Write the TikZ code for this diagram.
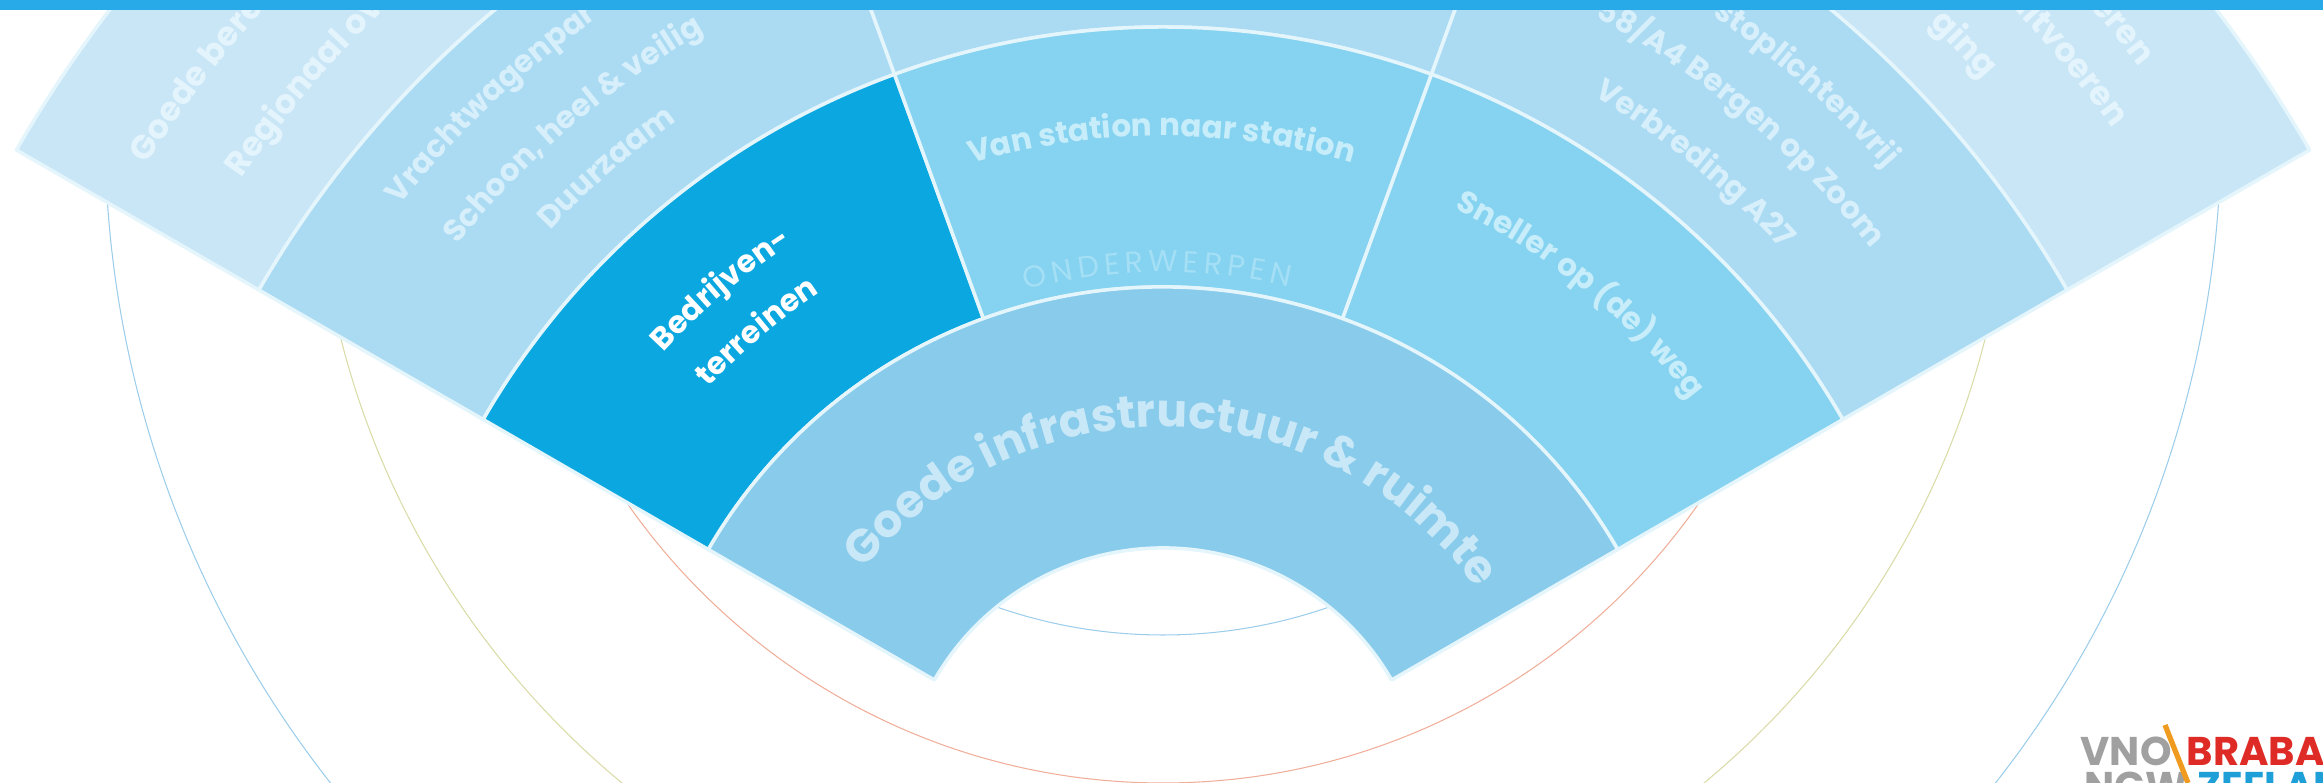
\documentclass[tikz,border=0pt]{standalone}
\usepackage{fontspec}
\setmainfont{Poppins}
\usetikzlibrary{decorations.text}

\definecolor{barBlue}{HTML}{27AAE7}
\definecolor{segDark}{HTML}{0BA7E0}
\definecolor{ringOne}{HTML}{89CBEB}
\definecolor{ringTwo}{HTML}{85D3F0}
\definecolor{ringThree}{HTML}{ABDBF3}
\definecolor{ringFour}{HTML}{C9E6F7}
\definecolor{sepLine}{HTML}{E4F5FC}
\definecolor{txtOne}{HTML}{C8E8F8}
\definecolor{txtTwo}{HTML}{C8EDFA}
\definecolor{txtThree}{HTML}{D6EFFB}
\definecolor{txtFour}{HTML}{E4F4FC}
\definecolor{txtFaint}{HTML}{A4DFF5}
\definecolor{lineBlue}{HTML}{9CCDEB}
\definecolor{lineRed}{HTML}{F0AE9A}
\definecolor{lineOlive}{HTML}{DADBA6}
\definecolor{logoGrey}{HTML}{A0A0A0}
\definecolor{logoRed}{HTML}{DE2B26}
\definecolor{logoBlue}{HTML}{1E9FD8}
\definecolor{logoOrange}{HTML}{EE9B1F}

\tikzset{
	segment/.style={draw=sepLine, line width=1pt, line join=round},
	thinring/.style={line width=0.3pt},
	logotext/.style={inner sep=0pt, anchor=base west, font=\fontsize{11.4}{12}\selectfont\bfseries}
}

% segment: start angle, end angle, inner radius, outer radius, colour
\newcommand{\ringSeg}[5]{
	\draw[segment, fill=#5] ([shift={(#1:#3)}]hub) arc[start angle=#1, end angle=#2, radius=#3] -- ([shift={(#2:#4)}]hub) arc[start angle=#2, end angle=#1, radius=#4] -- cycle;
}
% curved text: radius, start angle, format, text
\newcommand{\ringText}[4]{
	\path[decorate, decoration={text along path, text format delimiters={|}{|}, text={|#3|#4}}] ([shift={(#2:#1)}]hub) arc[start angle=#2, end angle=#2-115, radius=#1];
}
\newcommand{\fontMid}{\fontsize{8.8}{10}\selectfont\bfseries}
\newcommand{\fontThree}{\fontsize{8.8}{10}\selectfont\bfseries}
\newcommand{\fontFar}{\fontsize{9.5}{11}\selectfont\bfseries}

\begin{document}
\begin{tikzpicture}[x=0.01cm, y=0.01cm]
	\useasboundingbox (0,0) rectangle (2323,783);
	\clip (0,0) rectangle (2323,783);
	\coordinate (hub) at (1163,-29);
	\coordinate (rings) at (1163,653);

	% thin circles behind the fan
	\draw[thinring, lineBlue] (rings) circle[radius=505];
	\draw[thinring, lineRed] (rings) circle[radius=653];
	\draw[thinring, lineOlive] (rings) circle[radius=848];
	\draw[thinring, lineBlue] (rings) circle[radius=1058];

	% the fan, outside in
	\ringSeg{150}{30}{1044}{1324}{ringFour}
	\ringSeg{150}{110}{785}{1044}{ringThree}
	\ringSeg{110}{70}{785}{1044}{ringThree}
	\ringSeg{70}{30}{785}{1044}{ringThree}
	\ringSeg{150}{110}{525}{785}{segDark}
	\ringSeg{110}{70}{525}{785}{ringTwo}
	\ringSeg{70}{30}{525}{785}{ringTwo}
	\ringSeg{150}{30}{264}{525}{ringOne}

	% outer ring
	\ringText{1205}{147.5}{\color{txtFour}\fontFar}{Goede bere}
	\ringText{1118}{145.5}{\color{txtFour}\fontFar}{Regionaal ov}
	\ringText{1100}{45.8}{\color{txtFour}\fontFar}{ging}
	\ringText{1170}{43.9}{\color{txtFour}\fontFar}{uitvoeren}
	\ringText{1228}{41}{\color{txtFour}\fontFar}{eren}

	% third ring
	\ringText{975}{141.5}{\color{txtThree}\fontThree}{Vrachtwagenpar}
	\ringText{905}{141.2}{\color{txtThree}\fontThree}{Schoon, heel {\&} veilig}
	\ringText{845}{136.5}{\color{txtThree}\fontThree}{Duurzaam}
	\ringText{968}{55.4}{\color{txtThree}\fontThree}{stoplichtenvrij}
	\ringText{905}{61.5}{\color{txtThree}\fontThree}{58/A4 Bergen op Zoom}
	\ringText{836}{59}{\color{txtThree}\fontThree}{Verbreding A27}

	% second ring
	\ringText{679}{137.4}{\color{white}\fontMid}{Bedrijven-}
	\ringText{622}{137}{\color{white}\fontMid}{terreinen}
	\ringText{676}{106.5}{\color{txtTwo}\fontMid}{Van station naar station}
	\ringText{670}{64.2}{\color{txtTwo}\fontMid}{Sneller op (de) weg}
	\path[decorate, decoration={text along path, text align={fit to path}, text format delimiters={|}{|}, text={|\color{txtFaint}\fontsize{8.6}{10}\selectfont|ONDERWERPEN}}] ([shift={(104.7:540)}]hub) arc[start angle=104.7, end angle=76.5, radius=540];

	% inner ring
	\ringText{385}{141}{\color{txtOne}\fontsize{13}{15}\selectfont\bfseries}{Goede infrastructuur {\&} ruimte}

	\fill[barBlue] (0,773) rectangle (2323,783);

	% logo in the corner
	\node[logotext, text=logoGrey] (vno) at (2080,17) {VNO};
	\node[logotext, text=logoRed] (brabant) at (2186,17) {BRABANT};
	\node[logotext, text=logoGrey] (ngw) at (2084,-18) {NGW};
	\node[logotext, text=logoBlue] (zeeland) at (2197,-18) {ZEELAND};
	\coordinate (slashTop) at (2165,58);
	\coordinate (slashEnd) at (2188,0);
	\draw[logoOrange, line width=1.5pt] (slashTop) -- (slashEnd);
\end{tikzpicture}
\end{document}
